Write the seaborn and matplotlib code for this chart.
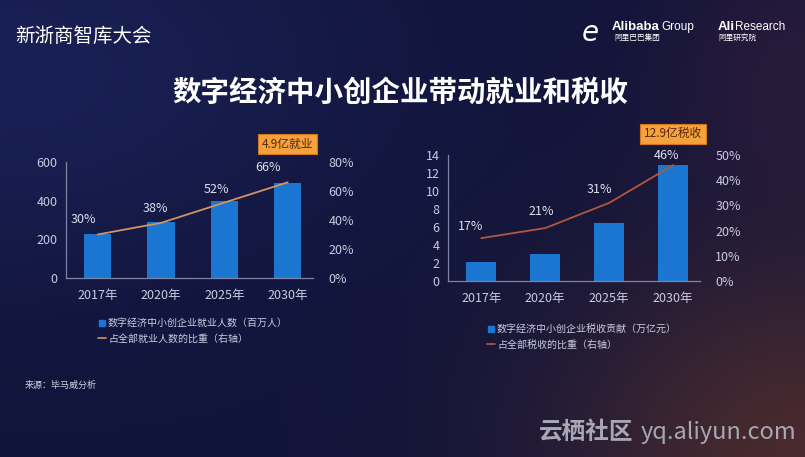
import numpy as np
import pandas as pd
import matplotlib
matplotlib.use("Agg")
import matplotlib.pyplot as plt
import seaborn as sns
from matplotlib.lines import Line2D

# data
years = ["2017年", "2020年", "2025年", "2030年"]
jobs = [230, 290, 400, 490]          # 百万人
jobs_share = [30, 38, 52, 66]        # %
tax = [2.1, 3.0, 6.5, 12.9]          # 万亿元
tax_share = [17, 21, 31, 46]         # %

jobs_ticks = [0, 200, 400, 600]
jobs_share_ticks = [0, 20, 40, 60, 80]
tax_ticks = [0, 2, 4, 6, 8, 10, 12, 14]
tax_share_ticks = [0, 10, 20, 30, 40, 50]

BLUE = "#1b76d2"
TICK = "#c9cce0"
SPINE = "#7d84a6"

sns.set_theme(style="dark")
plt.rcParams["font.family"] = ["Noto Sans CJK SC", "DejaVu Sans"]
plt.rcParams["axes.unicode_minus"] = False

W, H = 805, 457
fig = plt.figure(figsize=(W / 100, H / 100), dpi=100)

# background: dark navy with a warm glow bottom right
bg = fig.add_axes([0, 0, 1, 1])
yy, xx = np.mgrid[0:1:200j, 0:1:350j]
base = np.array([17, 20, 58]) / 255.0
img = np.ones((200, 350, 3)) * base
tl = np.exp(-((xx - 0.0) ** 2 + (yy - 0.15) ** 2) / 0.2)[..., None]
img += tl * (np.array([8, 12, 26]) / 255.0)
warm = np.exp(-((xx - 1.0) ** 2 / 0.1 + (yy - 1.0) ** 2 / 0.2))[..., None]
img += warm * (np.array([55, 22, -12]) / 255.0)
tr = np.exp(-((xx - 1.0) ** 2 / 0.03 + (yy - 0.15) ** 2 / 0.1))[..., None]
img += tr * (np.array([22, 6, 0]) / 255.0)
bg.imshow(np.clip(img, 0, 1), aspect="auto", extent=[0, 1, 0, 1], origin="upper")
bg.set_axis_off()


def px(x0, y_top, x1, y_bot):
    return [x0 / W, 1 - y_bot / H, (x1 - x0) / W, (y_bot - y_top) / H]


def panel(rect, values, shares, yticks, share_ticks, xlim, bar_w, line_color,
          badge, badge_y, labels, leg_xy, offsets):
    ax = fig.add_axes(rect)
    df = pd.DataFrame({"year": years, "value": values})
    sns.barplot(data=df, x="year", y="value", ax=ax, color=BLUE,
                saturation=1, width=bar_w, errorbar=None, linewidth=0)
    ax.set_facecolor("none")
    ax.set_ylim(yticks[0], yticks[-1])
    ax.set_yticks(yticks)
    ax.set_xlim(*xlim)
    ax.set_xlabel("")
    ax.set_ylabel("")
    for s in ["top", "right"]:
        ax.spines[s].set_visible(False)
    for s in ["left", "bottom"]:
        ax.spines[s].set_visible(True)
        ax.spines[s].set_color(SPINE)
        ax.spines[s].set_linewidth(0.9)
    ax.tick_params(axis="y", length=0, pad=6, labelsize=9, labelcolor=TICK)
    ax.tick_params(axis="x", length=0, pad=8, labelsize=9, labelcolor=TICK)
    ax.grid(False)

    ax2 = ax.twinx()
    sns.lineplot(x=np.arange(len(years)), y=shares, ax=ax2, color=line_color,
                 linewidth=1.3)
    ax2.set_ylim(share_ticks[0], share_ticks[-1])
    ax2.set_yticks(share_ticks)
    ax2.set_yticklabels([f"{t}%" for t in share_ticks])
    ax2.tick_params(axis="y", length=0, pad=11, labelsize=9, labelcolor=TICK)
    ax2.set_facecolor("none")
    ax2.grid(False)
    for s in ax2.spines.values():
        s.set_visible(False)
    ax2.set_ylabel("")

    for i, v in enumerate(shares):
        ax2.annotate(f"{v}%", (i, v), xytext=offsets[i], textcoords="offset points",
                     ha="center", va="bottom", fontsize=9, color="#dfe1ec")

    ax.annotate(badge, (len(years) - 1, badge_y), xycoords=("data", "axes fraction"),
                ha="center", va="center", fontsize=8.5, color="#5a2508",
                bbox=dict(boxstyle="square,pad=0.3", fc="#f4a23c", ec="#d2751e", lw=0.8))

    handles = [Line2D([], [], marker="s", ls="none", color=BLUE, markersize=5),
               Line2D([], [], color=line_color, lw=1.2)]
    fig.legend(handles, labels, loc="upper left", bbox_to_anchor=leg_xy,
               frameon=False, fontsize=7.2, labelcolor=TICK, handlelength=0.8,
               handletextpad=0.2, labelspacing=0.55, borderpad=0, borderaxespad=0)


panel(px(66, 162, 313, 278), jobs, jobs_share, jobs_ticks, jobs_share_ticks,
      (-0.5, 3.4), 0.43, "#d3945e", "4.9亿就业", 1.155,
      ["数字经济中小创企业就业人数（百万人）", "占全部就业人数的比重（右轴）"],
      (98 / W, 1 - 318 / H), [(-10, 6), (-4, 6), (-6, 5), (-14, 6)])

panel(px(448, 155, 700, 281), tax, tax_share, tax_ticks, tax_share_ticks,
      (-0.52, 3.42), 0.47, "#b0583e", "12.9亿税收", 1.17,
      ["数字经济中小创企业税收贡献（万亿元）", "占全部税收的比重（右轴）"],
      (487 / W, 1 - 324 / H), [(-8, 4), (-3, 7), (-7, 5), (-5, 2)])

# title and slide decoration
fig.text(400 / W, 1 - 93 / H, "数字经济中小创企业带动就业和税收", ha="center", va="center",
         fontsize=20.5, fontweight="bold", color="white")
fig.text(15 / W, 1 - 36 / H, "新浙商智库大会", ha="left", va="center",
         fontsize=14, color="white", style="italic")
fig.text(612 / W, 1 - 27 / H, "Alibaba", ha="left", va="center", fontsize=9.5,
         fontweight="bold", color="white", family=["Liberation Sans"])
fig.text(661 / W, 1 - 27 / H, "Group", ha="left", va="center", fontsize=8.5,
         color="white", family=["Liberation Sans"])
fig.text(614 / W, 1 - 38 / H, "阿里巴巴集团", ha="left", va="center", fontsize=5.5, color="white")
fig.text(582 / W, 1 - 33 / H, "e", ha="left", va="center", fontsize=20, style="italic",
         color="white", family=["DejaVu Sans"])
fig.text(718 / W, 1 - 27 / H, "Ali", ha="left", va="center", fontsize=9.5,
         fontweight="bold", color="white", family=["Liberation Sans"])
fig.text(734.5 / W, 1 - 27 / H, "Research", ha="left", va="center", fontsize=8.5,
         color="white", family=["Liberation Sans"])
fig.text(718 / W, 1 - 38 / H, "阿里研究院", ha="left", va="center", fontsize=5.5, color="white")

fig.text(25 / W, 1 - 385 / H, "来源：毕马威分析", ha="left", va="center",
         fontsize=6.5, color="#d0d2de")
fig.text(633 / W, 1 - 432 / H, "云栖社区", ha="right", va="center",
         fontsize=17, fontweight="bold", color="#a7a8b4")
fig.text(796 / W, 1 - 432 / H, "yq.aliyun.com", ha="right", va="center",
         fontsize=17, color="#a7a8b4")

fig.savefig("out.png", dpi=100)
